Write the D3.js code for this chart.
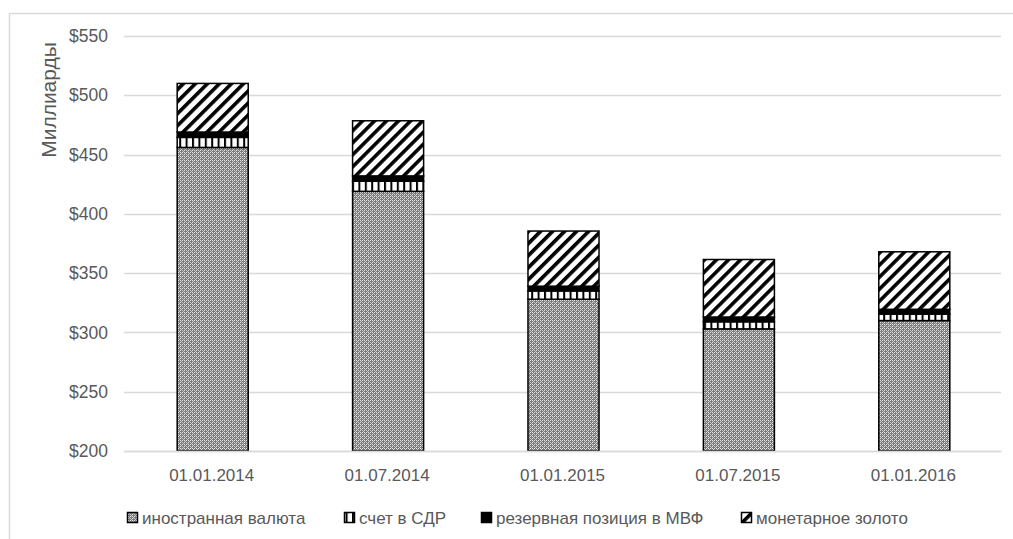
<!DOCTYPE html>
<html><head><meta charset="utf-8">
<script src="https://cdn.jsdelivr.net/npm/d3@7"></script>
<style>body{margin:0;background:#fff}svg{display:block}</style>
</head><body><svg id="c" width="1013" height="539"></svg>
<script>
const categories = ["01.01.2014","01.07.2014","01.01.2015","01.07.2015","01.01.2016"];
const seriesNames = ["иностранная валюта","счет в СДР","резервная позиция в МВФ","монетарное золото"];
const foreignCurrency = [456, 419, 328, 303, 310];
const sdr = [8.5, 8.5, 7, 6, 5.5];
const imfPosition = [4.5, 4.5, 4, 4, 4];
const gold = [41, 46.5, 46.5, 48.5, 48.5];
const yTicks = [200,250,300,350,400,450,500,550];
const yTitle = "Миллиарды";

(function(){
const svg = d3.select("#c");
const font = "'Liberation Sans', Arial, sans-serif";
const defs = svg.append("defs");

// patterns
const p1 = defs.append("pattern").attr("id","pFx").attr("patternUnits","userSpaceOnUse").attr("width",8).attr("height",8);
p1.append("rect").attr("width",8).attr("height",8).attr("fill","#7a7a7a");
[[0,0],[2,0],[4,0],[6,0],[0,2],[0,4],[0,6],[4,2],[4,4],[4,6],[2,4],[6,4]].forEach(([px,py])=>p1.append("rect").attr("x",px).attr("y",py).attr("width",1).attr("height",1).attr("fill","#e8e8e8"));
[[1,1],[3,3],[5,5],[7,7],[5,1],[7,3],[1,5],[3,7],[2,2],[6,6],[2,6],[6,2]].forEach(([px,py])=>p1.append("rect").attr("x",px).attr("y",py).attr("width",1).attr("height",1).attr("fill","#c4c4c4"));

const p2 = defs.append("pattern").attr("id","pSdr").attr("patternUnits","userSpaceOnUse").attr("width",6.4).attr("height",10).attr("x",0);
p2.append("rect").attr("width",6.4).attr("height",10).attr("fill","#fff");
p2.append("rect").attr("width",2).attr("height",10).attr("fill","#000");

const p4 = defs.append("pattern").attr("id","pGold").attr("patternUnits","userSpaceOnUse").attr("width",8.5).attr("height",10).attr("patternTransform","rotate(45)");
p4.append("rect").attr("width",8.5).attr("height",10).attr("fill","#fff");
p4.append("rect").attr("width",3.6).attr("height",10).attr("fill","#000");

const fills = ["url(#pFx)","url(#pSdr)","#000","url(#pGold)"];

// chart border
svg.append("rect").attr("x",9.5).attr("y",13.5).attr("width",1010).attr("height",540)
  .attr("fill","none").attr("stroke","#d9d9d9").attr("stroke-width",1.5);

const mLeft = 124, mRight = 1001, mTop = 36, mBottom = 451;
const x = d3.scaleBand().domain(categories).range([mLeft,mRight]).paddingInner(0.595).paddingOuter(0.2975);
const y = d3.scaleLinear().domain([200,550]).range([mBottom,mTop]);

// gridlines
svg.append("g").selectAll("line").data(yTicks).join("line")
  .attr("x1",mLeft).attr("x2",mRight).attr("y1",d=>Math.round(y(d))+0.5).attr("y2",d=>Math.round(y(d))+0.5)
  .attr("stroke","#d9d9d9").attr("stroke-width",1.5);

// y axis labels
const yAxis = svg.append("g").attr("transform",`translate(${mLeft-16},0)`)
  .call(d3.axisLeft(y).tickValues(yTicks).tickSize(0).tickPadding(0).tickFormat(d=>"$"+d));
yAxis.select(".domain").remove();
yAxis.selectAll("text").attr("font-family",font).attr("font-size",17.5).attr("fill","#595959");

svg.append("text").attr("transform","translate(56,100) rotate(-90)").attr("text-anchor","middle")
  .attr("font-family",font).attr("font-size",21).attr("fill","#595959").text(yTitle);

// stacked data
const rows = categories.map((c,i)=>({cat:c, s0:foreignCurrency[i], s1:sdr[i], s2:imfPosition[i], s3:gold[i]}));
const stack = d3.stack().keys(["s0","s1","s2","s3"]).value((d,k)=>d[k]);
const series = stack(rows);
const bars = svg.append("g");
series.forEach((s,si)=>{
  bars.append("g").selectAll("rect").data(s).join("rect")
    .attr("x",d=>x(d.data.cat)+1).attr("width",x.bandwidth())
    .attr("y",d=>y(Math.max(200,d[1])))
    .attr("height",d=>y(Math.max(200,d[0]))-y(Math.max(200,d[1])))
    .attr("fill",fills[si]).attr("stroke","#000").attr("stroke-width",1.5);
});

// x axis
const xAxis = svg.append("g").attr("transform",`translate(0,${mBottom})`)
  .call(d3.axisBottom(x).tickSize(0).tickPadding(18));
xAxis.select(".domain").attr("stroke","#d9d9d9").attr("stroke-width",1.5);
xAxis.selectAll("text").attr("font-family",font).attr("font-size",17).attr("fill","#595959");

// legend
const legX = [127, 344, 481, 741];
const lg = svg.append("g");
seriesNames.forEach((n,i)=>{
  lg.append("rect").attr("x",legX[i]+0.5).attr("y",512.5).attr("width",10).attr("height",10)
    .attr("fill",fills[i]).attr("stroke","#000").attr("stroke-width",1.5);
  lg.append("text").attr("x",legX[i]+15).attr("y",524).attr("font-family",font).attr("font-size",17)
    .attr("fill","#595959").text(n);
});
})();
</script></body></html>
